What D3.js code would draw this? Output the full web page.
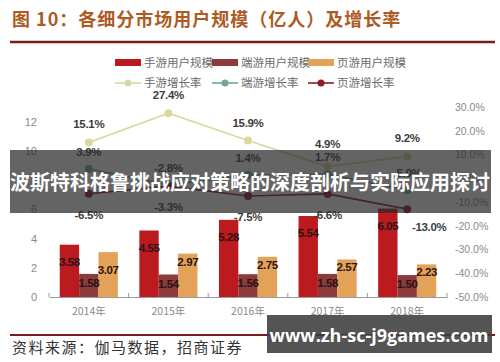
<!DOCTYPE html>
<html>
<head>
<meta charset="utf-8">
<script src="https://cdn.jsdelivr.net/npm/d3@7"></script>
<style>
  body { margin: 0; background: #fff; }
  svg { display: block; font-family: "Liberation Sans", Arial, "Noto Sans CJK SC", sans-serif; }
  .cjk { font-family: "Noto Sans CJK SC", sans-serif; }
</style>
</head>
<body>
<div id="chartCont"></div>
<script>
// categories
let years = ["2014年", "2015年", "2016年", "2017年", "2018年"];

// user scale (100m people), bars
let mobileUsers = [3.58, 4.55, 5.28, 5.54, 6.05];
let clientUsers = [1.58, 1.54, 1.56, 1.58, 1.50];
let webUsers = [3.07, 2.97, 2.75, 2.57, 2.23];

// growth rates, lines
let mobileRate = [0.151, 0.274, 0.159, 0.049, 0.092];
let clientRate = [0.039, -0.028, 0.014, 0.017, -0.050];
let webRate = [-0.065, -0.033, -0.075, -0.066, -0.130];

let leftTicks = [0, 2, 4, 6, 8, 10, 12];
let rightTicks = [-0.5, -0.4, -0.3, -0.2, -0.1, 0, 0.1, 0.2, 0.3];

let barNames = ["手游用户规模", "端游用户规模", "页游用户规模"];
let lineNames = ["手游增长率", "端游增长率", "页游增长率"];

(function() {
  let width = 500,
    height = 362;

  // percent with a plain hyphen like excel does
  let pct = function(d) {
    return d3.format(".1%")(d).replace("−", "-");
  };

  let svg = d3.select("#chartCont")
    .append("svg")
    .attr("width", width)
    .attr("height", height);

  // title + rule
  svg.append("text")
    .attr("class", "cjk")
    .attr("x", 12)
    .attr("y", 26)
    .attr("font-size", 18)
    .attr("font-weight", "bold")
    .attr("letter-spacing", 1)
    .attr("fill", "#ad5a23")
    .text("图 10：各细分市场用户规模（亿人）及增长率");

  svg.append("line")
    .attr("x1", 10).attr("x2", 495)
    .attr("y1", 42).attr("y2", 42)
    .attr("stroke", "#7a1c1c")
    .attr("stroke-width", 2.5);

  let plotTop = 107, plotBottom = 297;

  let x0 = d3.scaleBand().domain(years).range([49, 447]);
  let groupW = x0.bandwidth() * 0.73;
  let x1 = d3.scaleBand().domain(barNames)
    .range([(x0.bandwidth() - groupW) / 2, (x0.bandwidth() + groupW) / 2]);

  let yL = d3.scaleLinear().domain([0, 13]).range([plotBottom, plotTop]);
  let yR = d3.scaleLinear().domain([-0.5, 0.3]).range([plotBottom, plotTop]);

  let barColors = ["#bb1a1f", "#8c3a3b", "#e3a257"];
  let lineColors = ["#dad89c", "#6fa898", "#8e1a2c"];

  // left axis
  let gL = svg.append("g")
    .attr("transform", "translate(40,0)")
    .call(d3.axisLeft(yL).tickValues(leftTicks).tickSize(0).tickPadding(3));
  gL.select(".domain").remove();
  gL.selectAll("text").attr("font-size", 11).attr("fill", "#8a8a8a")
    .attr("font-family", "Liberation Sans, Arial, sans-serif");

  // right axis
  let gR = svg.append("g")
    .attr("transform", "translate(452,0)")
    .call(d3.axisRight(yR).tickValues(rightTicks).tickSize(0).tickPadding(3)
      .tickFormat(pct));
  gR.select(".domain").remove();
  gR.selectAll("text").attr("font-size", 10.5).attr("fill", "#8a8a8a")
    .attr("font-family", "Liberation Sans, Arial, sans-serif");

  // bars
  let series = [mobileUsers, clientUsers, webUsers];
  let barRows = [];
  series.forEach(function(vals, si) {
    vals.forEach(function(v, i) {
      barRows.push({ s: si, name: barNames[si], year: years[i], v: v });
    });
  });

  svg.append("g").selectAll("rect")
    .data(barRows)
    .enter().append("rect")
    .attr("x", function(d) { return x0(d.year) + x1(d.name); })
    .attr("y", function(d) { return yL(d.v); })
    .attr("width", x1.bandwidth())
    .attr("height", function(d) { return yL(0) - yL(d.v); })
    .attr("fill", function(d) { return barColors[d.s]; });

  // x axis
  let gX = svg.append("g")
    .attr("transform", "translate(0," + plotBottom + ")")
    .call(d3.axisBottom(x0).tickSize(0).tickSizeOuter(0).tickPadding(11));
  gX.select(".domain").attr("stroke", "#9a9a9a");
  gX.selectAll("text").attr("font-size", 10.5).attr("fill", "#8a8a8a")
    .attr("class", "cjk");
  gX.selectAll(".sep")
    .data(d3.range(years.length + 1))
    .enter().append("line")
    .attr("class", "sep")
    .attr("x1", function(i) { return 49 + i * x0.step(); })
    .attr("x2", function(i) { return 49 + i * x0.step(); })
    .attr("y1", -4).attr("y2", 0)
    .attr("stroke", "#9a9a9a");

  // bar value labels
  let barLabelDy = [17, 9, 8];
  svg.append("g").selectAll("text")
    .data(barRows)
    .enter().append("text")
    .attr("x", function(d) { return x0(d.year) + x1(d.name) + x1.bandwidth() / 2; })
    .attr("y", function(d) {
      let dy = barLabelDy[d.s];
      if (d.s === 2 && d.year === "2014年") dy = 18;
      return yL(d.v) + dy;
    })
    .attr("dy", "0.35em")
    .attr("text-anchor", "middle")
    .attr("font-size", 11.5)
    .attr("font-weight", "bold")
    .attr("letter-spacing", -0.4)
    .attr("fill", "#2a1414")
    .text(function(d) { return d.v.toFixed(2); });

  // rate lines
  let rates = [mobileRate, clientRate, webRate];
  let line = d3.line()
    .x(function(d, i) { return x0(years[i]) + x0.bandwidth() / 2; })
    .y(function(d) { return yR(d); });

  rates.forEach(function(vals, si) {
    let g = svg.append("g");
    g.append("path")
      .datum(vals)
      .attr("d", line)
      .attr("fill", "none")
      .attr("stroke", lineColors[si])
      .attr("stroke-width", 1.6);
    g.selectAll("circle")
      .data(vals)
      .enter().append("circle")
      .attr("cx", function(d, i) { return x0(years[i]) + x0.bandwidth() / 2; })
      .attr("cy", function(d) { return yR(d); })
      .attr("r", 4)
      .attr("fill", lineColors[si]);
  });

  // rate labels: above for mobile / client, below for web
  let rateLabelDy = [-18, -17, 21];
  rates.forEach(function(vals, si) {
    svg.append("g").selectAll("text")
      .data(vals)
      .enter().append("text")
      .attr("x", function(d, i) {
        let cx = x0(years[i]) + x0.bandwidth() / 2;
        return (si === 2 && i === 4) ? cx + 22 : cx;
      })
      .attr("y", function(d, i) {
        let dy = rateLabelDy[si];
        if (si === 2 && i === 4) dy = 18;
        if (si === 0 && i === 3) dy = -23;
        return yR(d) + dy;
      })
      .attr("dy", "0.35em")
      .attr("text-anchor", "middle")
      .attr("font-size", 11.5)
      .attr("font-weight", "bold")
      .attr("letter-spacing", -0.3)
      .attr("fill", "#3c3c3c")
      .text(pct);
  });

  // legend
  let legX = [115, 212, 308];
  let leg = svg.append("g").attr("class", "cjk");
  barNames.forEach(function(n, i) {
    leg.append("rect")
      .attr("x", legX[i]).attr("y", 59)
      .attr("width", 26).attr("height", 7)
      .attr("fill", barColors[i]);
    leg.append("text")
      .attr("x", legX[i] + 29).attr("y", 62.5)
      .attr("dy", "0.35em")
      .attr("font-size", 11.5)
      .attr("fill", "#6a6a6a")
      .text(n);
  });
  lineNames.forEach(function(n, i) {
    leg.append("line")
      .attr("x1", legX[i]).attr("x2", legX[i] + 26)
      .attr("y1", 83).attr("y2", 83)
      .attr("stroke", lineColors[i]).attr("stroke-width", 1.6);
    leg.append("circle")
      .attr("cx", legX[i] + 13).attr("cy", 83).attr("r", 3.5)
      .attr("fill", lineColors[i]);
    leg.append("text")
      .attr("x", legX[i] + 29).attr("y", 83)
      .attr("dy", "0.35em")
      .attr("font-size", 11.5)
      .attr("fill", "#6a6a6a")
      .text(n);
  });

  // source + bottom rule
  svg.append("line")
    .attr("x1", 10).attr("x2", 495)
    .attr("y1", 335).attr("y2", 335)
    .attr("stroke", "#7a1c1c")
    .attr("stroke-width", 1.8);

  svg.append("text")
    .attr("class", "cjk")
    .attr("x", 12).attr("y", 353)
    .attr("font-size", 15)
    .attr("letter-spacing", 1.5)
    .attr("fill", "#333")
    .text("资料来源：伽马数据，招商证券");

  // overlay band across the middle
  svg.append("rect")
    .attr("x", 10).attr("y", 150)
    .attr("width", 481).attr("height", 63)
    .attr("fill", "rgba(40,40,40,0.72)");
  svg.append("text")
    .attr("class", "cjk")
    .attr("x", 250).attr("y", 183)
    .attr("dy", "0.35em")
    .attr("text-anchor", "middle")
    .attr("font-size", 20)
    .attr("font-weight", "bold")
    .attr("fill", "#fff")
    .text("波斯特科格鲁挑战应对策略的深度剖析与实际应用探讨");

  // url box bottom right
  svg.append("rect")
    .attr("x", 267).attr("y", 315)
    .attr("width", 225).attr("height", 38)
    .attr("fill", "rgba(60,60,60,0.88)");
  svg.append("text")
    .attr("x", 379).attr("y", 336)
    .attr("dy", "0.35em")
    .attr("text-anchor", "middle")
    .attr("font-family", "'Open Sans', sans-serif")
    .attr("font-size", 18)
    .attr("font-weight", "bold")
    .attr("fill", "#fff")
    .text("www.zh-sc-j9games.com");
})();
</script>
</body>
</html>
